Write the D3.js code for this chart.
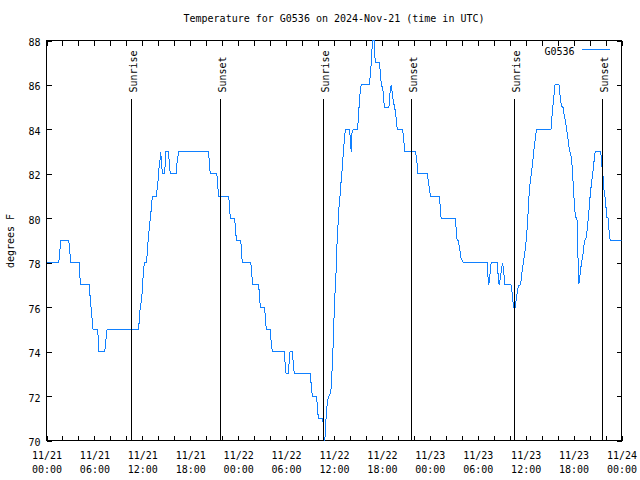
<!DOCTYPE html>
<html><head><meta charset="utf-8">
<script src="https://cdn.jsdelivr.net/npm/d3@7"></script>
<style>
body{margin:0;background:#fff}
svg text{font-family:"DejaVu Sans Mono",monospace;font-size:10px;fill:#000}
</style></head><body>
<svg id="c" width="640" height="480"></svg>
<script>
// hours since 2024-11-21 00:00 UTC
const hours = [0,1.54,1.79,2.79,3.04,4.08,4.25,5.33,5.83,6.42,6.54,7.29,7.58,11.54,11.67,11.875,12.0,12.08,12.25,12.5,12.58,12.67,12.79,12.92,13.08,13.17,13.29,13.75,13.83,14.0,14.08,14.21,14.3,14.42,14.5,14.79,14.96,15.27,15.38,15.5,16.25,16.33,16.54,20.29,20.375,20.5,21.33,21.42,21.54,22.83,22.92,23.04,23.52,23.625,23.71,23.79,24.29,24.375,24.46,24.54,25.58,25.67,25.75,25.83,26.54,26.625,26.71,26.79,27.29,27.375,27.46,27.54,28.0,28.08,28.17,28.29,29.79,29.875,30.0,30.29,30.42,30.5,30.75,30.83,30.96,31.04,33.0,33.125,33.29,33.77,33.875,33.98,34.06,34.56,34.66,34.71,34.75,34.85,34.96,35.08,35.21,35.35,35.5,35.625,35.71,35.79,35.92,36.0,36.125,36.25,36.33,36.46,36.58,36.75,36.875,37.0,37.08,37.17,37.29,37.42,37.92,38.0,38.08,38.17,38.21,38.4,38.92,39.0,39.08,39.21,39.29,39.42,40.42,40.5,40.625,40.71,40.79,40.85,41.02,41.1,41.25,41.67,41.75,41.83,41.96,42.125,42.21,42.33,42.875,42.96,43.04,43.17,43.25,43.42,43.58,43.71,43.83,43.92,44.58,44.67,44.79,44.875,46.2,46.33,46.42,46.46,47.71,47.79,47.92,48.0,48.125,49.2,49.29,49.33,49.42,51.17,51.25,51.33,51.42,51.58,51.67,51.79,51.875,52.2,55.17,55.25,55.375,55.54,55.67,56.46,56.54,56.67,56.75,56.875,57.04,57.125,57.21,57.29,57.375,58.17,58.29,58.42,58.5,58.71,58.83,58.96,59.08,59.33,59.46,59.58,59.71,59.83,59.96,60.08,60.21,60.33,60.46,60.625,60.75,60.875,61.0,61.125,61.25,61.375,63.17,63.25,63.33,63.46,63.54,63.67,64.17,64.25,64.375,64.46,64.67,64.75,64.875,65.0,65.125,65.25,65.375,65.5,65.75,65.875,66.0,66.125,66.25,66.42,66.5,66.58,66.67,66.75,66.875,67.0,67.125,67.25,67.375,67.54,67.625,67.75,67.875,68.0,68.125,68.25,68.42,68.54,68.71,69.375,69.5,69.58,69.67,69.71,69.79,69.92,70.04,70.17,70.33,70.42,70.58,72.0];
const temps = [78,78,79,79,78,78,77,77,75,75,74,74,75,75,75.77,76.27,76.75,77.28,78.0,78.0,78.25,78.78,79.23,79.75,80.27,80.72,81.0,81.0,81.25,81.78,82.23,82.6,83.0,82.45,82.0,82.0,83.0,83.0,82.5,82.0,82.0,82.45,83.0,83.0,82.6,82.0,82.0,81.6,81.0,81.0,80.35,80.0,80.0,79.75,79.3,79.0,79.0,78.78,78.25,78.0,78.0,77.7,77.24,77.0,77.0,76.75,76.27,76.0,76.0,75.7,75.25,75.0,75.0,74.7,74.24,74.0,74.0,73.5,73.0,73.0,73.75,74.0,74.0,73.75,73.25,73.0,73.0,72.6,72.0,72.0,71.73,71.22,71.0,71.0,70.75,70.25,70.0,70.0,70.75,71.4,71.8,72.0,72.1,72.3,72.8,73.45,74.5,75.5,76.6,77.5,78.5,79.4,80.3,81.0,81.6,82.1,82.5,83.0,83.5,84.0,84.0,83.77,83.3,83.0,83.8,84.0,84.0,84.25,84.77,85.3,85.78,86.0,86.0,86.27,86.8,87.3,87.8,88.0,88.0,87.3,87.0,87.0,86.8,86.3,86.0,85.78,85.3,85.0,85.0,85.3,85.78,86.0,85.78,85.3,85.0,84.77,84.3,84.0,84.0,83.77,83.3,83.0,83.0,82.75,82.4,82.0,82.0,81.7,81.4,81.18,81.0,81.0,80.57,80.27,80.0,80.0,79.75,79.3,79.0,79.0,78.78,78.5,78.25,78.0,78.0,77.5,77.0,77.5,78.0,78.0,77.5,77.0,77.12,77.43,77.88,78.0,77.7,77.43,77.0,77.0,76.67,76.22,76.0,76.0,76.38,76.67,76.97,77.0,77.27,77.7,78.0,78.33,78.6,79.07,79.67,80.43,81.25,81.78,82.15,82.5,82.97,83.35,83.72,84.0,84.0,84.33,84.78,85.22,85.52,86.0,86.0,85.68,85.38,85.05,85.0,84.78,84.55,84.33,84.03,83.72,83.35,83.05,82.68,82.0,81.25,80.43,80.05,80.0,79.22,77.8,77.05,77.27,77.7,78.0,78.25,78.6,79.0,79.07,79.22,79.67,80.1,80.72,81.18,81.63,82.08,82.5,83.0,83.0,82.68,82.2,82.0,81.78,81.33,81.0,80.57,80.05,80.0,79.52,79.0,79.0];
const sunriseHours = [10.69, 34.66, 58.66];
const sunsetHours = [21.79, 45.65, 69.66];
const yTicks = [70,72,74,76,78,80,82,84,86,88];
const xMajorHours = [0,6,12,18,24,30,36,42,48,54,60,66,72];
const xMinorHours = [0,2,4,6,8,10,12,14,16,18,20,22,24,26,28,30,32,34,36,38,40,42,44,46,48,50,52,54,56,58,60,62,64,66,68,70,72];
const titleText = "Temperature for G0536 on 2024-Nov-21 (time in UTC)";
const seriesName = "G0536";
const yLabel = "degrees F";

const start = Date.UTC(2024, 10, 21);
const toDate = h => new Date(start + h * 3600000);
const data = hours.map((h, i) => [toDate(h), temps[i]]);

const L = 46, R = 621, T = 40, B = 440;
const x = d3.scaleUtc().domain([toDate(0), toDate(72)]).range([L, R]);
const y = d3.scaleLinear().domain([70, 88]).range([B, T]);

const svg = d3.select("#c");
svg.append("rect").attr("width",640).attr("height",480).attr("fill","#fff");
const g = svg.append("g").attr("transform","translate(0.5,0.5)");

function styleAxis(sel){
  sel.select(".domain").remove();
  sel.selectAll("line").attr("stroke","#000").attr("shape-rendering","crispEdges");
}

// tick marks (inward) on all sides
g.append("g").attr("transform",`translate(0,${B})`)
  .call(d3.axisBottom(x).tickValues(xMinorHours.map(toDate)).tickSize(-5).tickFormat(""))
  .call(styleAxis);
g.append("g").attr("transform",`translate(0,${T})`)
  .call(d3.axisTop(x).tickValues(xMinorHours.map(toDate)).tickSize(-5).tickFormat(""))
  .call(styleAxis);
g.append("g").attr("transform",`translate(${R},0)`)
  .call(d3.axisRight(y).tickValues(yTicks).tickSize(-5).tickFormat(""))
  .call(styleAxis);
const yAx = g.append("g").attr("transform",`translate(${L},0)`)
  .call(d3.axisLeft(y).tickValues(yTicks).tickSize(-5).tickPadding(6).tickFormat(d3.format("d")))
  .call(styleAxis);
yAx.attr("font-family",null).attr("font-size",null);
yAx.selectAll("text").attr("dy","5px").attr("fill","#000");

// x labels (two lines)
const fmtD = d3.utcFormat("%m/%d"), fmtT = d3.utcFormat("%H:%M");
const xAx = g.append("g").attr("transform",`translate(0,${B})`)
  .call(d3.axisBottom(x).tickValues(xMajorHours.map(toDate)).tickSize(0).tickFormat(""));
xAx.select(".domain").remove();
xAx.attr("font-family",null).attr("font-size",null);
xAx.selectAll(".tick text").each(function(d){
  const t = d3.select(this).attr("y",null).attr("dy",null).attr("fill","#000");
  t.text(null);
  t.append("tspan").attr("x",0).attr("y",18).text(fmtD(d));
  t.append("tspan").attr("x",0).attr("y",32).text(fmtT(d));
});

// frame
g.append("rect").attr("x",L).attr("y",T).attr("width",R-L).attr("height",B-T)
  .attr("fill","none").attr("stroke","#000").attr("shape-rendering","crispEdges");

// data line
g.append("clipPath").attr("id","clip").append("rect")
  .attr("x",L).attr("y",T-1).attr("width",R-L).attr("height",B-T+2);
g.append("path").datum(data)
  .attr("clip-path","url(#clip)")
  .attr("fill","none").attr("stroke","#1080ff").attr("stroke-width",1)
  .attr("shape-rendering","crispEdges")
  .attr("d", d3.line().x(d => x(d[0])).y(d => y(d[1])));

// sunrise / sunset markers
const events = sunriseHours.map(h => ({h, label:"Sunrise"}))
  .concat(sunsetHours.map(h => ({h, label:"Sunset"})));
events.forEach(e => {
  const xp = Math.round(x(toDate(e.h)));
  g.append("line").attr("x1",xp).attr("x2",xp).attr("y1",98).attr("y2",B)
    .attr("stroke","#000").attr("shape-rendering","crispEdges");
  g.append("text").attr("transform",`translate(${xp+5},92) rotate(-90)`)
    .attr("text-anchor","start").text(e.label);
});

// legend
g.append("text").attr("x",574).attr("y",54).attr("text-anchor","end").text(seriesName);
g.append("line").attr("x1",581).attr("x2",609).attr("y1",49).attr("y2",49)
  .attr("stroke","#1080ff").attr("shape-rendering","crispEdges");

// title and y label
svg.append("text").attr("x",334).attr("y",22).attr("text-anchor","middle").text(titleText);
svg.append("text").attr("transform","translate(14,241) rotate(-90)")
  .attr("text-anchor","middle").text(yLabel);
</script>
</body></html>
